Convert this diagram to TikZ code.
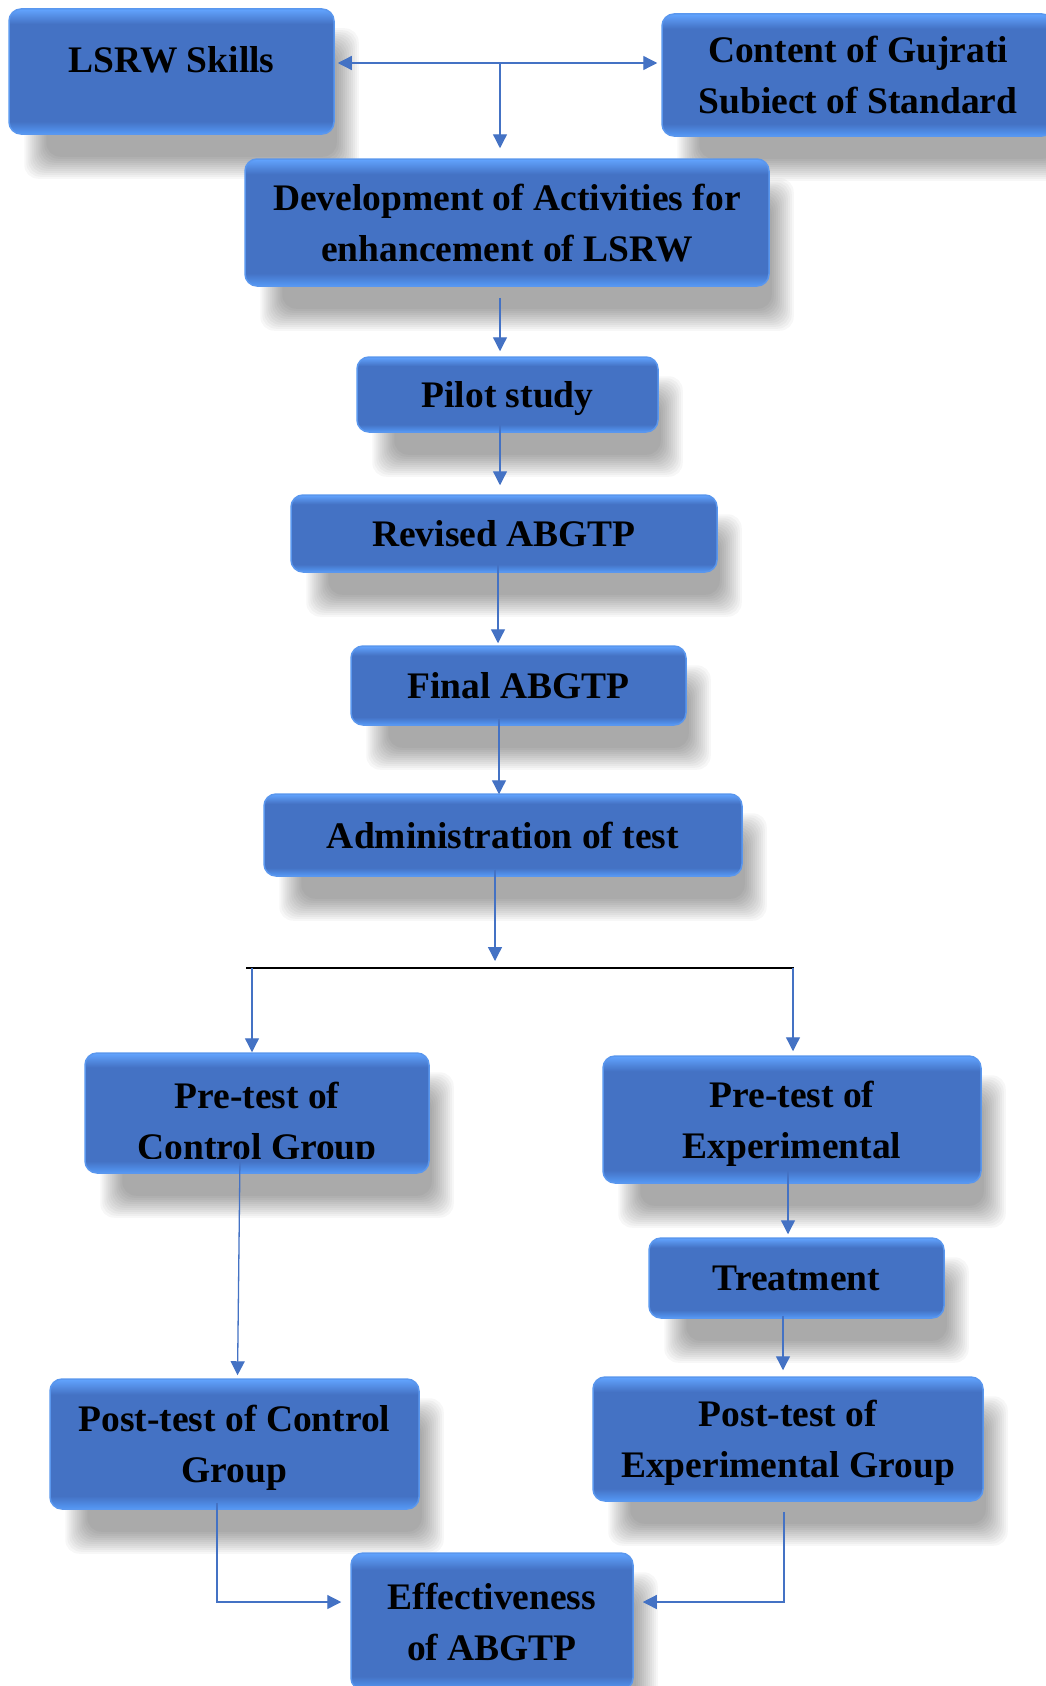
\documentclass[tikz,border=0pt]{standalone}
\usepackage{fontspec}
\setmainfont{Liberation Serif}
\usetikzlibrary{positioning,calc,arrows.meta,backgrounds}

\definecolor{boxmid}{HTML}{4472C4}
\definecolor{boxtop}{HTML}{62A4FF}
\definecolor{boxbot}{HTML}{5599F6}
\definecolor{boxedge}{HTML}{5A97EE}
\definecolor{linkblue}{HTML}{4472C4}

\pgfdeclareverticalshading{bevel}{100bp}{color(0bp)=(boxbot); color(25bp)=(boxbot); color(30bp)=(boxmid); color(69bp)=(boxmid); color(75bp)=(boxtop); color(100bp)=(boxtop)}

% soft grey shadow under a box
\newcommand\softshadow[1]{%
    \foreach \e in {12,10,...,-10}{
        \fill [black, opacity=0.03, rounded corners=14pt]
            ($(#1.north west)+({28-\e},{32-\e})$) rectangle ($(#1.south east)+({12+\e},{32+\e})$);
    }}

\begin{document}
\begin{tikzpicture}[x=1pt, y=-1pt, >={Triangle[width=14pt,length=14pt]},
    box/.style={rectangle, rounded corners=12pt, shade, shading=bevel, draw=boxedge, line width=1.5pt,
        text=black, align=center, text depth=0pt, font=\fontsize{37.5}{51}\selectfont\bfseries},
    lbl/.style={align=center, text=black, text depth=0pt, font=\fontsize{37.5}{51}\selectfont\bfseries},
    link/.style={draw=linkblue, line width=1.3pt, ->}
]
    \path [use as bounding box] (0,0) rectangle (1046,1686);

    \node [box, minimum width=325pt, minimum height=125pt, text depth=24pt] (lsrw) at (171.5,71.5) {LSRW Skills};
    \node [box, minimum width=392pt, minimum height=122pt, text depth=-8pt] (content) at (858,75) {Content of Gujrati\\Subiect of Standard};
    \node [box, minimum width=524pt, minimum height=127pt, text depth=-8pt] (dev) at (507,222.5) {Development of Activities for\\enhancement of LSRW};
    \node [box, minimum width=301pt, minimum height=75pt] (pilot) at (507.5,394.5) {Pilot study};
    \node [box, minimum width=426pt, minimum height=77pt] (revised) at (504,533.5) {Revised ABGTP};
    \node [box, minimum width=335pt, minimum height=79pt] (final) at (518.5,685.5) {Final ABGTP};
    \node [box, minimum width=478pt, minimum height=82pt] (admin) at (503,835) {Administration of test};

    \node [box, minimum width=344pt, minimum height=120pt] (preC) at (257,1113) {};
    \begin{scope}
        \clip (preC.north west) rectangle ($(preC.south east)+(0,-15)$);
        \node [lbl] (preCtxt) at ($(preC.center)+(0,8)$) {Pre-test of\\Control Group};
    \end{scope}
    \node [box, minimum width=378pt, minimum height=127pt] (preE) at (792,1119.5) {Pre-test of\\Experimental};
    \node [box, minimum width=295pt, minimum height=80pt] (treat) at (796.5,1278) {Treatment};
    \node [box, minimum width=369pt, minimum height=130pt, text depth=-4pt] (postC) at (234.5,1444) {Post-test of Control\\Group};
    \node [box, minimum width=390pt, minimum height=124pt, text depth=-8pt] (postE) at (788,1439) {Post-test of\\Experimental Group};
    \node [box, minimum width=282pt, minimum height=137pt] (eff) at (492,1621.5) {Effectiveness\\of ABGTP};

    % shadows behind everything
    \begin{scope}[on background layer]
        \fill [white] (0,0) rectangle (1046,1686);
        \foreach \b in {lsrw,content,dev,pilot,revised,final,admin,preC,preE,treat,postC,postE,eff}
            {\softshadow{\b}}
    \end{scope}

    % top junction
    \coordinate (top) at (500,63);
    \draw [link, <->, shorten <=3pt, shorten >=4pt] (top -| lsrw.east) -- (top -| content.west);
    \draw [link, shorten >=10pt] (top) -- (top |- dev.north);

    % main column
    \draw [link, shorten <=11pt, shorten >=5pt] (top |- dev.south) -- (top |- pilot.north);
    \draw [link, shorten >=9pt] ($(top |- pilot.south)+(0,-24)$) -- (top |- revised.north);
    \draw [link, shorten >=2pt] ($(top |- revised.south)+(-2,-23)$) -- ($(top |- final.north)+(-2,0)$);
    \draw [link] ($(top |- final.south)+(-1,-7)$) -- ($(top |- admin.north)+(-1,1)$);

    % split into two groups
    \coordinate (bar) at (495,968);
    \coordinate (barL) at (252,968);
    \coordinate (barR) at (793,968);
    \draw [link, shorten >=7pt] ($(bar |- admin.south)+(0,-7)$) -- (bar);
    \draw [black, line width=1.3pt] ($(barL)+(-6,0)$) -- ($(barR)+(1,0)$);
    \draw [link] (barL) -- (barL |- preC.north);
    \draw [link, shorten >=4pt] (barR) -- (barR |- preE.north);

    % groups
    \draw [link, shorten >=3pt] ($(preC.south)+(-17,-17)$) -- ($(postC.north)+(3,0)$);
    \draw [link, shorten >=3pt] ($(preE.south)+(-4,-15)$) -- ($(treat.north)+(-8.5,0)$);
    \draw [link, shorten >=6pt] ($(treat.south)+(-13.5,-3)$) -- ($(postE.north)+(-5,0)$);
    \draw [link, shorten >=9pt] ($(postC.south)+(-17.5,-7)$) |- ($(eff.west)+(0,-19.5)$);
    \draw [link, shorten >=9pt] ($(postE.south)+(-4,10)$) |- ($(eff.east)+(0,-19.5)$);
\end{tikzpicture}
\end{document}
